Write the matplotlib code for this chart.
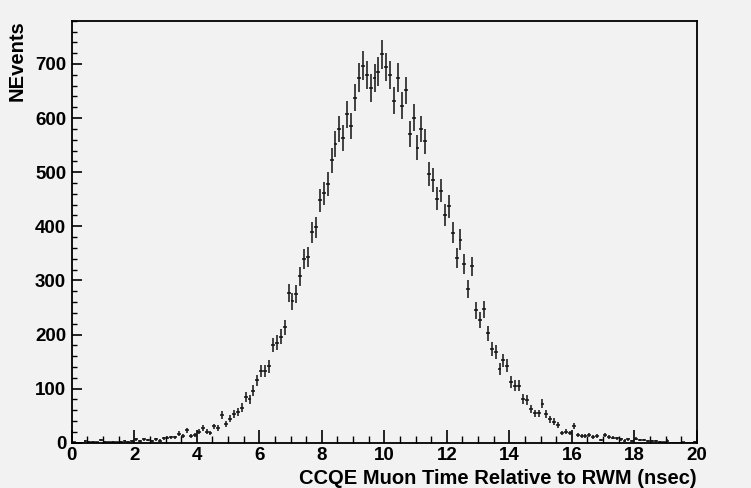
import numpy as np
import matplotlib.pyplot as plt
from matplotlib.ticker import MultipleLocator

# histogram: 160 bins of 0.125 nsec between 0 and 20
bin_lo = 0.0
bin_hi = 20.0
counts = [
    1, 0, 0, 3, 2, 2, 1, 5, 2, 1,
    2, 1, 2, 3, 2, 3, 6, 3, 6, 5,
    3, 6, 4, 8, 9, 10, 10, 17, 12, 23,
    12, 14, 20, 27, 20, 18, 30, 27, 51, 34,
    44, 53, 57, 65, 85, 80, 96, 115, 133, 133,
    141, 181, 185, 196, 213, 276, 261, 275, 308, 340,
    344, 389, 398, 448, 461, 478, 522, 552, 580, 563,
    607, 585, 638, 675, 697, 680, 655, 674, 686, 718,
    694, 680, 632, 675, 623, 651, 570, 601, 545, 580,
    557, 497, 485, 451, 466, 421, 437, 388, 342, 375,
    330, 284, 326, 245, 227, 247, 202, 173, 167, 136,
    152, 142, 112, 105, 105, 81, 79, 62, 54, 54,
    72, 53, 43, 39, 33, 18, 20, 18, 31, 14,
    12, 13, 14, 11, 12, 5, 14, 11, 9, 8,
    6, 4, 6, 3, 7, 5, 5, 3, 3, 3,
    2, 1, 4, 0, 0, 0, 1, 0, 0, 2,
]
x_label = "CCQE Muon Time Relative to RWM (nsec)"
y_label = "NEvents"

counts = np.array(counts, dtype=float)
edges = np.linspace(bin_lo, bin_hi, len(counts) + 1)
centers = 0.5 * (edges[:-1] + edges[1:])
half_w = 0.5 * (edges[1] - edges[0])

plt.rcParams['font.family'] = ['Liberation Sans', 'DejaVu Sans']
plt.rcParams['font.weight'] = 'bold'

bg = '#f2f2f2'
fig = plt.figure(figsize=(7.51, 4.88), dpi=100, facecolor=bg)
ax = fig.add_axes([0.0956, 0.0928, 0.8322, 0.8648], facecolor=bg)

ax.errorbar(centers, counts, xerr=half_w, yerr=np.sqrt(counts),
            fmt='none', ecolor='#111111', elinewidth=1.1, capsize=0)

ax.set_xlim(bin_lo, bin_hi)
ax.set_ylim(0, 780)

ax.xaxis.set_major_locator(MultipleLocator(2))
ax.xaxis.set_minor_locator(MultipleLocator(0.5))
ax.yaxis.set_major_locator(MultipleLocator(100))
ax.yaxis.set_minor_locator(MultipleLocator(20))

ax.tick_params(axis='x', which='major', direction='in', length=9.5, width=1.2,
               labelsize=13.5, pad=3, top=False)
ax.tick_params(axis='x', which='minor', direction='in', length=4.8, width=1.0, top=False)
ax.tick_params(axis='y', which='major', direction='in', length=7.5, width=1.2,
               labelsize=13.5, pad=4, right=False)
ax.tick_params(axis='y', which='minor', direction='in', length=3.8, width=1.0, right=False)

for s in ax.spines.values():
    s.set_linewidth(1.3)

ax.set_xlabel(x_label, fontsize=14.5, fontweight='bold', loc='right', labelpad=4)
ax.set_ylabel(y_label, fontsize=14.5, fontweight='bold', loc='top', labelpad=6)

fig.savefig('out.png', dpi=100, facecolor=bg)
